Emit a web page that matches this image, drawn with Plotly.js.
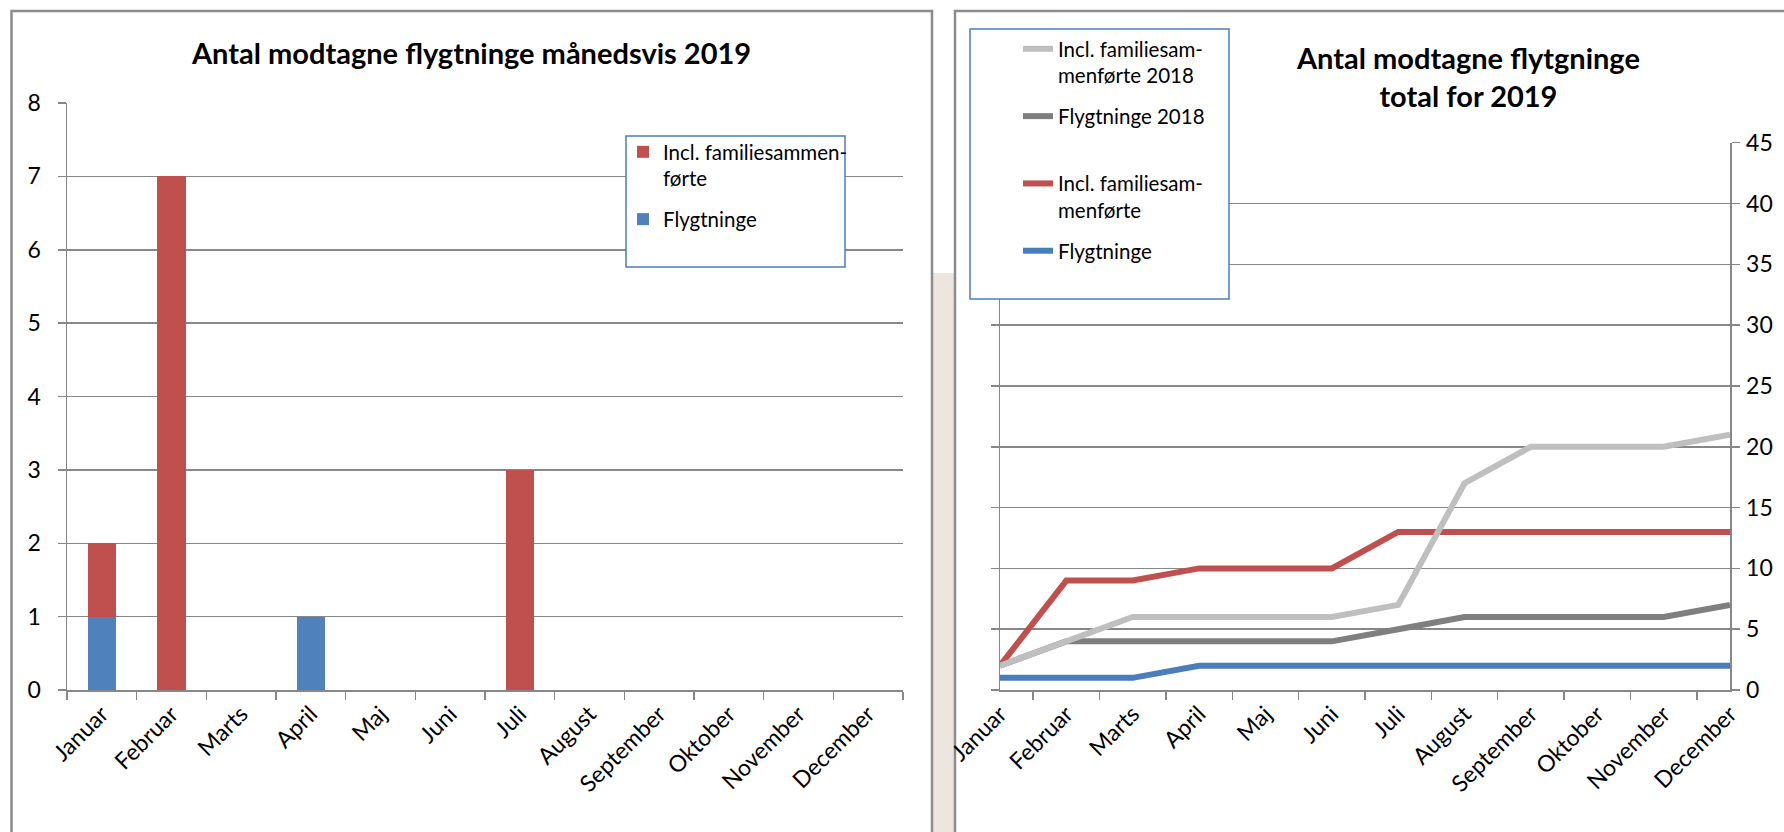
<!DOCTYPE html>
<html>
<head>
<meta charset="utf-8">
<script src="https://cdn.plot.ly/plotly-3.0.1.min.js"></script>
<style>html,body{margin:0;padding:0;background:#fff;}#chart{width:1784px;height:832px;}</style>
</head>
<body>
<div id="chart"></div>
<script>
// ---- data ----
const months = ["Januar","Februar","Marts","April","Maj","Juni","Juli","August","September","Oktober","November","December"];
// monthly bars 2019 (stacked)
const barFlygtninge = [1,0,0,1,0,0,0,0,0,0,0,0];
const barFamilie    = [1,7,0,0,0,0,3,0,0,0,0,0];
// cumulative totals
const cumFamilie2018    = [2,4,6,6,6,6,7,17,20,20,20,21];
const cumFlygtninge2018 = [2,4,4,4,4,4,5,6,6,6,6,7];
const cumFamilie2019    = [2,9,9,10,10,10,13,13,13,13,13,13];
const cumFlygtninge2019 = [1,1,1,2,2,2,2,2,2,2,2,2];

const titleLeft  = "Antal modtagne flygtninge månedsvis 2019";
const titleRight = "Antal modtagne flytgninge<br>total for 2019";
const nameBarFam = "Incl. familiesammen-<br>førte";
const nameBarFly = "Flygtninge";
const nameFam18 = "Incl. familiesam-<br>menførte 2018";
const nameFly18 = "Flygtninge 2018<br>\u00a0";
const nameFam19 = "Incl. familiesam-<br>menførte";
const nameFly19 = "Flygtninge";

// ---- styling ----
const W = 1784, H = 832;
const X = px => px / W;
const Y = py => 1 - py / H;
const RED = "#c0504d", BLUE = "#4f81bd", LGRAY = "#bfbfbf", DGRAY = "#7f7f7f";
const GRID = "#878787", FRAME = "#8c8c8c", LEGBORDER = "#4a7ebb";
const FONT = "Lato, 'Open Sans', sans-serif";

const traces = [
  {type:"bar", x:months, y:barFlygtninge, name:nameBarFly, marker:{color:BLUE},
   xaxis:"x", yaxis:"y", legend:"legend", legendgroup:"b2", legendrank:2, hoverinfo:"skip"},
  {type:"bar", x:months, y:barFamilie, name:nameBarFam, marker:{color:RED},
   xaxis:"x", yaxis:"y", legend:"legend", legendgroup:"b1", legendrank:1, hoverinfo:"skip"},
  {type:"scatter", mode:"lines", x:months, y:cumFlygtninge2019, name:nameFly19,
   line:{color:"#4a7ebb", width:6}, xaxis:"x2", yaxis:"y2", legend:"legend2", legendgroup:"l4", legendrank:4},
  {type:"scatter", mode:"lines", x:months, y:cumFamilie2019, name:nameFam19,
   line:{color:RED, width:6}, xaxis:"x2", yaxis:"y2", legend:"legend2", legendgroup:"l3", legendrank:3},
  {type:"scatter", mode:"lines", x:months, y:cumFlygtninge2018, name:nameFly18,
   line:{color:DGRAY, width:6}, xaxis:"x2", yaxis:"y2", legend:"legend2", legendgroup:"l2", legendrank:2},
  {type:"scatter", mode:"lines", x:months, y:cumFamilie2018, name:nameFam18,
   line:{color:LGRAY, width:6}, xaxis:"x2", yaxis:"y2", legend:"legend2", legendgroup:"l1", legendrank:1}
];

const tickFont = {family:FONT, size:23, color:"#000"};
const xCommon = {type:"category", tickson:"boundaries", ticks:"outside", ticklen:8, tickwidth:1.5,
  tickcolor:GRID, showline:true, linecolor:GRID, linewidth:1.5, showgrid:false, tickangle:-45,
  tickfont:tickFont, fixedrange:true, zeroline:false};

const layout = {
  width:W, height:H, margin:{l:0,r:0,t:0,b:0},
  paper_bgcolor:"#fff", plot_bgcolor:"rgba(0,0,0,0)",
  barmode:"stack", bargap:0.59, showlegend:true, font:{family:FONT, color:"#000"},
  xaxis:Object.assign({}, xCommon, {domain:[X(67), X(903)], anchor:"y"}),
  yaxis:{domain:[Y(690), Y(103)], range:[0,8], dtick:1, tick0:0, anchor:"x",
    ticks:"outside", ticklen:8, tickwidth:1.5, tickcolor:GRID, showline:true, linecolor:GRID, linewidth:1.5,
    showgrid:true, gridcolor:GRID, gridwidth:1.5, zeroline:false, tickfont:tickFont, ticklabelstandoff:12, fixedrange:true},
  xaxis2:Object.assign({}, xCommon, {domain:[X(1000), X(1730)], anchor:"y2"}),
  yaxis2:{domain:[Y(690), Y(142.7)], range:[0,45], dtick:5, tick0:0, anchor:"x2", side:"right",
    ticks:"outside", ticklen:8, tickwidth:1.5, tickcolor:GRID, showline:true, mirror:"ticks", linecolor:GRID, linewidth:1.5,
    showgrid:true, gridcolor:GRID, gridwidth:1.5, zeroline:false, tickfont:tickFont, ticklabelstandoff:2, fixedrange:true},
  legend:{x:X(623), y:Y(132), xanchor:"left", yanchor:"top", bgcolor:"rgba(0,0,0,0)", borderwidth:0,
    font:{family:FONT, size:20.5, color:"#000"}, traceorder:"grouped", tracegroupgap:11, valign:"top"},
  legend2:{x:X(1018), y:Y(29), xanchor:"left", yanchor:"top", bgcolor:"rgba(0,0,0,0)", borderwidth:0,
    font:{family:FONT, size:20.5, color:"#000"}, traceorder:"grouped", tracegroupgap:11, valign:"top"},
  annotations:[
    {text:"<b>"+titleLeft+"</b>", xref:"paper", yref:"paper", x:X(471), y:Y(52), xanchor:"center", yanchor:"middle",
     showarrow:false, font:{family:FONT, size:29, color:"#000"}},
    {text:"<b>"+titleRight.replace("<br>","</b><br><b>")+"</b>", xref:"paper", yref:"paper", x:X(1468), y:Y(76), xanchor:"center", yanchor:"middle",
     showarrow:false, font:{family:FONT, size:29, color:"#000"}}
  ],
  shapes:[
    // background strip between panels
    {type:"rect", xref:"paper", yref:"paper", x0:X(933), x1:X(954), y0:Y(840), y1:Y(273), fillcolor:"rgba(215,198,186,0.45)", line:{width:0}, layer:"below"},
    // panel frames
    {type:"rect", xref:"paper", yref:"paper", x0:X(11.5), x1:X(932), y0:Y(845), y1:Y(11), fillcolor:"rgba(0,0,0,0)", line:{color:FRAME, width:2.5}, layer:"below"},
    {type:"rect", xref:"paper", yref:"paper", x0:X(955), x1:X(1795), y0:Y(845), y1:Y(11), fillcolor:"rgba(0,0,0,0)", line:{color:FRAME, width:2.5}, layer:"below"},
    // legend boxes
    {type:"rect", xref:"paper", yref:"paper", x0:X(626), x1:X(845), y0:Y(267), y1:Y(136), fillcolor:"#fff", line:{color:LEGBORDER, width:1.5}, layer:"above"},
    {type:"rect", xref:"paper", yref:"paper", x0:X(970), x1:X(1229), y0:Y(299), y1:Y(29), fillcolor:"#fff", line:{color:LEGBORDER, width:1.5}, layer:"above"}
  ]
};

Plotly.newPlot("chart", traces, layout, {displayModeBar:false, staticPlot:true});
</script>
</body>
</html>
